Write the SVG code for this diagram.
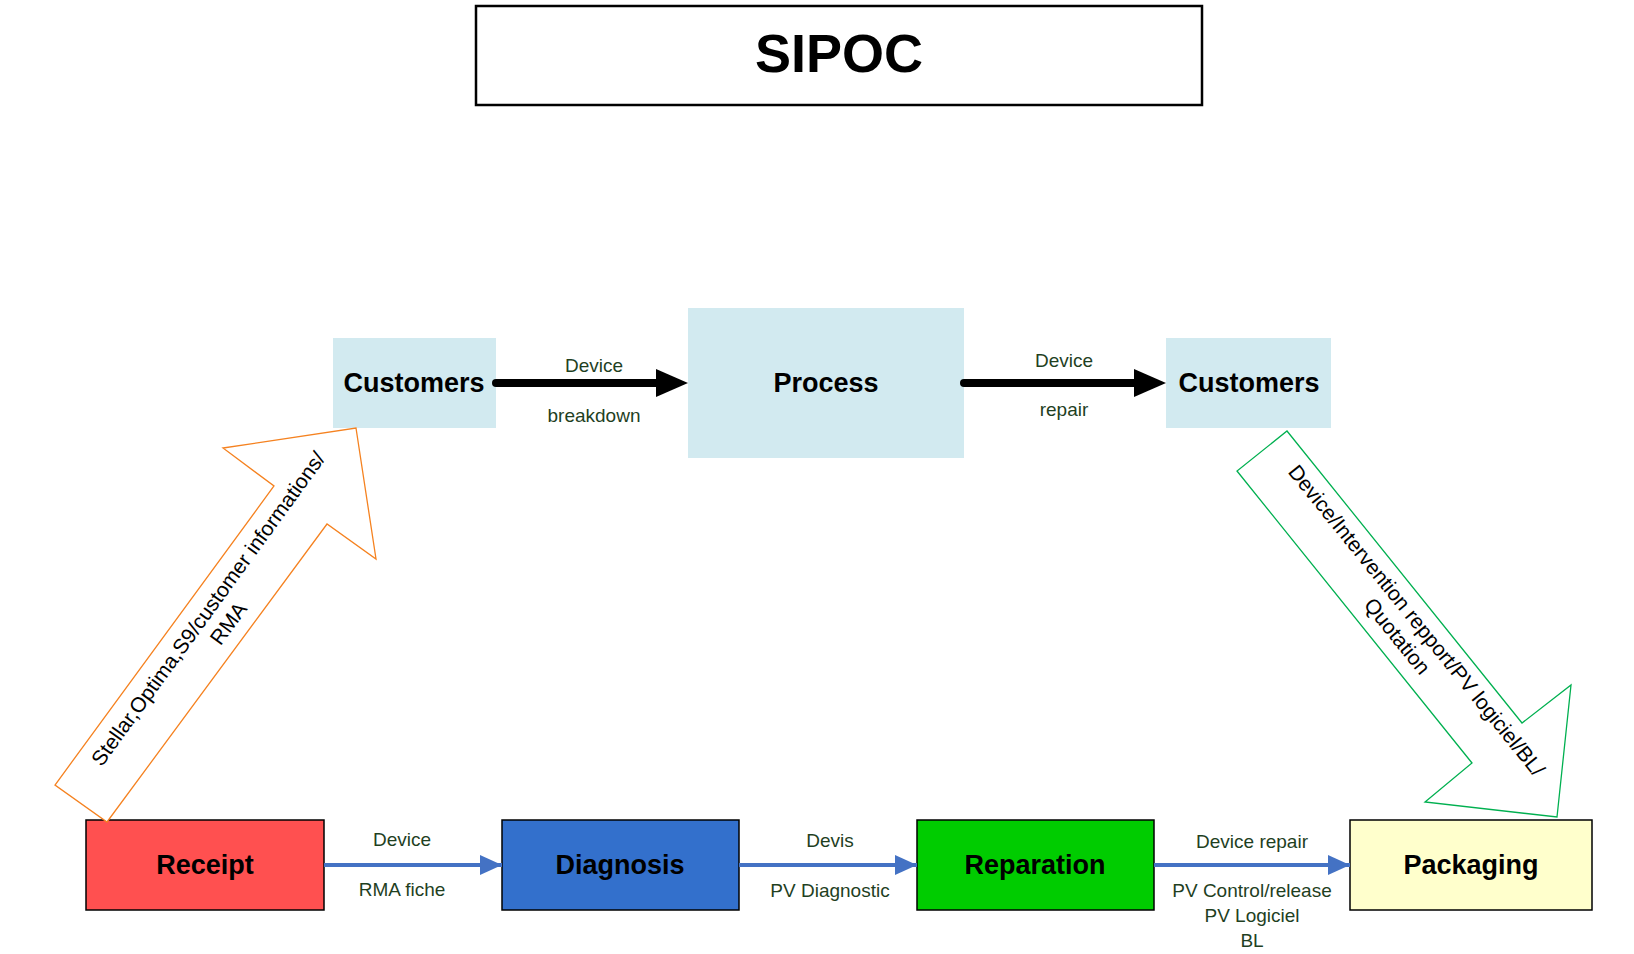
<svg xmlns="http://www.w3.org/2000/svg" width="1634" height="954" viewBox="0 0 1634 954">
<style>
text{font-family:"Liberation Sans",Arial,sans-serif;text-anchor:middle}
.n{font-weight:bold;font-size:27px;fill:#000}
.l{font-size:19px;fill:#1f3f1f}
.r{font-size:21px;fill:#000}
</style>
<defs>
<marker id="bh" markerWidth="10" markerHeight="10" refX="9" refY="5" orient="auto" markerUnits="userSpaceOnUse"><path d="M0,0 L10,5 L0,10z" fill="#000"/></marker>
<marker id="blh" markerWidth="22" markerHeight="20" refX="22" refY="10" orient="auto" markerUnits="userSpaceOnUse"><path d="M0,0 L22,10 L0,20z" fill="#4472c4"/></marker>
</defs>
<rect width="1634" height="954" fill="#fff"/>
<g id="title"><rect x="476" y="6" width="726" height="99" fill="#fff" stroke="#000" stroke-width="2.5"/><text x="839" y="72" style="font-weight:bold;font-size:54px">SIPOC</text></g>
<g id="custL"><rect x="333" y="338" width="163" height="90" fill="#d2eaf0"/><text class="n" x="414" y="392">Customers</text></g>
<g id="process"><rect x="688" y="308" width="276" height="150" fill="#d2eaf0"/><text class="n" x="826" y="392">Process</text></g>
<g id="custR"><rect x="1166" y="338" width="165" height="90" fill="#d2eaf0"/><text class="n" x="1249" y="392">Customers</text></g>
<g id="receipt"><rect x="86" y="820" width="238" height="90" fill="#ff5050" stroke="#000" stroke-width="1.5"/><text class="n" x="205" y="874">Receipt</text></g>
<g id="diagnosis"><rect x="502" y="820" width="237" height="90" fill="#3370cc" stroke="#000" stroke-width="1.5"/><text class="n" x="620" y="874">Diagnosis</text></g>
<g id="reparation"><rect x="917" y="820" width="237" height="90" fill="#00cc00" stroke="#000" stroke-width="1.5"/><text class="n" x="1035" y="874">Reparation</text></g>
<g id="packaging"><rect x="1350" y="820" width="242" height="90" fill="#ffffcc" stroke="#000" stroke-width="1.5"/><text class="n" x="1471" y="874">Packaging</text></g>
<g id="connectors">
<line x1="496" y1="383" x2="656" y2="383" stroke="#000" stroke-width="8" stroke-linecap="round"/><path d="M656,369 L688,383 L656,397z" fill="#000"/>
<line x1="964" y1="383" x2="1134" y2="383" stroke="#000" stroke-width="8" stroke-linecap="round"/><path d="M1134,369 L1166,383 L1134,397z" fill="#000"/>
<line x1="324" y1="865" x2="502" y2="865" stroke="#4472c4" stroke-width="4" marker-end="url(#blh)"/>
<line x1="739" y1="865" x2="917" y2="865" stroke="#4472c4" stroke-width="4" marker-end="url(#blh)"/>
<line x1="1154" y1="865" x2="1350" y2="865" stroke="#4472c4" stroke-width="4" marker-end="url(#blh)"/>
<polygon points="356,428 376,559 327,524 107,822 55,785 274,486 223,448" fill="#fff" stroke="#f58220" stroke-width="1.3"/>
<polygon points="1287,431 1522,723 1571,685 1557,817 1425,802 1472,763 1237,471" fill="#fff" stroke="#00b050" stroke-width="1.3"/>
<text class="l" x="594" y="372">Device</text><text class="l" x="594" y="422">breakdown</text>
<text class="l" x="1064" y="367">Device</text><text class="l" x="1064" y="416">repair</text>
<text class="l" x="402" y="846">Device</text><text class="l" x="402" y="896">RMA fiche</text>
<text class="l" x="830" y="847">Devis</text><text class="l" x="830" y="897">PV Diagnostic</text>
<text class="l" x="1252" y="848">Device repair</text><text class="l" x="1252" y="897">PV Control/release</text><text class="l" x="1252" y="922">PV Logiciel</text><text class="l" x="1252" y="947">BL</text>
<text class="r" transform="translate(214,613) rotate(-54)"><tspan x="0" y="0">Stellar,Optima,S9/customer informations/</tspan><tspan x="0" y="25">RMA</tspan></text>
<text class="r" transform="translate(1411,625) rotate(51)"><tspan x="0" y="0">Device/Intervention repport/PV logiciel/BL/</tspan><tspan x="0" y="25">Quotation</tspan></text>
</g>
</svg>
